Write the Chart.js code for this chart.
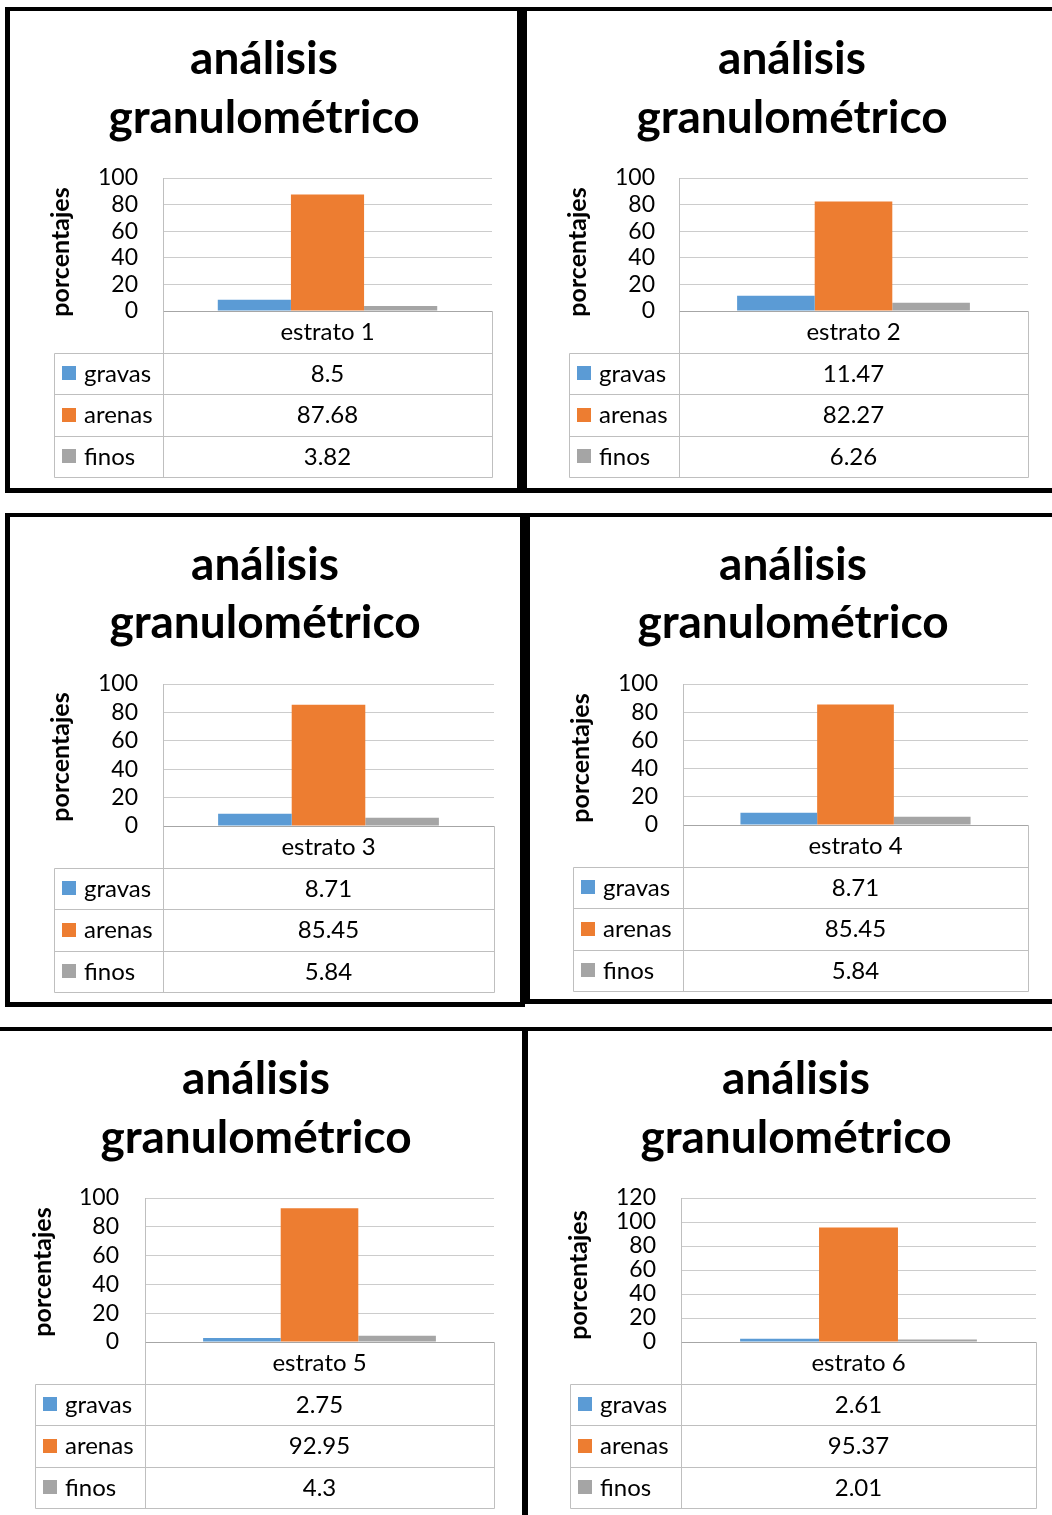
<!DOCTYPE html>
<html>
<head>
<meta charset="utf-8">
<script src="https://cdn.jsdelivr.net/npm/chart.js@4.4.1/dist/chart.umd.min.js"></script>
<style>
  html, body { margin: 0; padding: 0; background: #fff; }
  body { width: 1052px; height: 1515px; position: relative; overflow: hidden; }
  .frame { position: absolute; box-sizing: border-box; border: 5px solid #000; border-top-width: 4px; }
  .rule { position: absolute; background: #000; }
  canvas { position: absolute; }
</style>
</head>
<body>
<!-- panel frames -->
<div class="frame" style="left:5px;top:7px;width:517px;height:486px;"></div>
<div class="frame" style="left:522px;top:7px;width:540px;height:486px;"></div>
<div class="frame" style="left:5px;top:513px;width:520px;height:494px;"></div>
<div class="frame" style="left:525px;top:513px;width:540px;height:491px;"></div>
<div class="rule" style="left:0;top:1027px;width:1052px;height:4px;"></div>
<div class="rule" style="left:522px;top:1027px;width:6px;height:488px;"></div>

<script>
// ---- data ----
const strata = ['estrato 1', 'estrato 2', 'estrato 3', 'estrato 4', 'estrato 5', 'estrato 6'];
const seriesNames = ['gravas', 'arenas', 'finos'];
const gravas = [8.5, 11.47, 8.71, 8.71, 2.75, 2.61];
const arenas = [87.68, 82.27, 85.45, 85.45, 92.95, 95.37];
const finos  = [3.82, 6.26, 5.84, 5.84, 4.3, 2.01];
const yMax   = [100, 100, 100, 100, 100, 120];
const yStep  = 20;
const titleLines = ['análisis', 'granulométrico'];
const yTitle = 'porcentajes';

// ---- styles ----
const FONT = 'Lato, "Open Sans", sans-serif';
const seriesColors = ['#5B9BD5', '#ED7D31', '#A5A5A5'];
const gridColor = '#CCCCCC';
const axisColor = '#A6A6A6';
const tableColor = '#BFBFBF';
const rowH = 41.5;

// ---- panel placement on the page ----
const panelLayout = [
  { x: 10,  y: 10,   w: 507, h: 478, L: 163, R: 492,  T: 178,  B: 311,  labelL: 54,  tickR: 138, yTitleX: 61,  yTitleY: 252,  titleX: 264, base: [74, 133] },
  { x: 528, y: 10,   w: 524, h: 478, L: 679, R: 1028, T: 178,  B: 311,  labelL: 569, tickR: 655, yTitleX: 578, yTitleY: 252,  titleX: 792, base: [74, 133] },
  { x: 10,  y: 517,  w: 510, h: 485, L: 163, R: 494,  T: 684,  B: 826,  labelL: 54,  tickR: 138, yTitleX: 61,  yTitleY: 757,  titleX: 265, base: [580, 638] },
  { x: 530, y: 517,  w: 522, h: 483, L: 683, R: 1028, T: 684,  B: 825,  labelL: 573, tickR: 658, yTitleX: 581, yTitleY: 758,  titleX: 793, base: [580, 638] },
  { x: 0,   y: 1031, w: 521, h: 484, L: 145, R: 494,  T: 1198, B: 1342, labelL: 35,  tickR: 119, yTitleX: 43,  yTitleY: 1272, titleX: 256, base: [1094, 1153] },
  { x: 528, y: 1031, w: 524, h: 484, L: 681, R: 1036, T: 1198, B: 1342, labelL: 570, tickR: 656, yTitleX: 579, yTitleY: 1275, titleX: 796, base: [1094, 1153] }
];

// two-line bold heading and the rotated value-axis caption
const headingPlugin = {
  id: 'heading',
  afterDraw(chart, args, opts) {
    const ctx = chart.ctx;
    ctx.save();
    ctx.fillStyle = '#000';
    ctx.textAlign = 'center';
    ctx.textBaseline = 'alphabetic';
    ctx.font = `bold ${opts.size}px ${FONT}`;
    opts.lines.forEach((t, i) => ctx.fillText(t, opts.x, opts.baselines[i]));

    ctx.translate(opts.axisX, opts.axisY);
    ctx.rotate(-Math.PI / 2);
    ctx.textBaseline = 'middle';
    ctx.font = `bold ${opts.axisSize}px ${FONT}`;
    ctx.fillText(opts.axisText, 0, 0);
    ctx.restore();
  }
};

// data table under the plot: category header, legend keys, values
const tablePlugin = {
  id: 'dataTable',
  afterDraw(chart, args, opts) {
    const { ctx, chartArea: a, scales: { x } } = chart;
    const sets = chart.data.datasets;
    const top = a.bottom;
    const bottom = top + rowH * (sets.length + 1);
    const px = v => Math.round(v) + 0.5;
    const line = (x1, y1, x2, y2) => {
      ctx.beginPath(); ctx.moveTo(px(x1), px(y1)); ctx.lineTo(px(x2), px(y2)); ctx.stroke();
    };
    ctx.save();
    ctx.lineWidth = 1;
    ctx.strokeStyle = axisColor;
    line(a.left, top, a.right, top);
    ctx.strokeStyle = tableColor;
    line(a.left, top, a.left, bottom);
    line(a.right, top, a.right, bottom);
    line(opts.labelLeft, top + rowH, opts.labelLeft, bottom);
    for (let r = 1; r <= sets.length + 1; r++) line(opts.labelLeft, top + rowH * r, a.right, top + rowH * r);

    const cx = x.getPixelForValue(0);
    ctx.font = `${opts.size}px ${FONT}`;
    ctx.textBaseline = 'middle';
    ctx.fillStyle = '#000';
    ctx.textAlign = 'center';
    ctx.fillText(chart.data.labels[0], cx, top + rowH / 2 + 1);
    sets.forEach((ds, i) => {
      const yMid = top + rowH * (i + 1.5);
      ctx.fillStyle = ds.backgroundColor;
      ctx.fillRect(Math.round(opts.labelLeft + 8), Math.round(yMid - 7), 14, 14);
      ctx.fillStyle = '#000';
      ctx.textAlign = 'left';
      ctx.fillText(ds.label, opts.labelLeft + 30, yMid + 1);
      ctx.textAlign = 'center';
      ctx.fillText(String(ds.data[0]), cx, yMid + 1);
    });
    ctx.restore();
  }
};

const seriesValues = [gravas, arenas, finos];

panelLayout.forEach((p, i) => {
  const cv = document.createElement('canvas');
  cv.width = p.w; cv.height = p.h;
  cv.style.left = p.x + 'px'; cv.style.top = p.y + 'px';
  cv.style.width = p.w + 'px'; cv.style.height = p.h + 'px';
  document.body.appendChild(cv);

  new Chart(cv, {
    type: 'bar',
    data: {
      labels: [strata[i]],
      datasets: seriesNames.map((name, k) => ({
        label: name,
        data: [seriesValues[k][i]],
        backgroundColor: seriesColors[k],
        borderWidth: 0,
        categoryPercentage: 0.667,
        barPercentage: 1
      }))
    },
    options: {
      responsive: false,
      animation: false,
      devicePixelRatio: 1,
      layout: { padding: { left: 0, top: p.T - p.y, right: p.x + p.w - p.R, bottom: p.y + p.h - p.B } },
      plugins: {
        legend: { display: false },
        tooltip: { enabled: false },
        title: { display: false },
        heading: {
          lines: titleLines, x: p.titleX - p.x, baselines: p.base.map(b => b - p.y), size: 46,
          axisText: yTitle, axisX: p.yTitleX - p.x, axisY: p.yTitleY - p.y, axisSize: 25
        },
        dataTable: { labelLeft: p.labelL - p.x, size: 24 }
      },
      scales: {
        x: { display: false },
        y: {
          min: 0,
          max: yMax[i],
          afterFit(scale) { scale.width = p.L - p.x; },
          ticks: { stepSize: yStep, autoSkip: false, padding: p.L - p.tickR, color: '#000', font: { family: FONT, size: 23 } },
          grid: {
            drawTicks: false,
            lineWidth: 1,
            color: c => (c.tick && c.tick.value === 0) ? axisColor : gridColor
          },
          border: { display: true, color: tableColor, width: 1 },
          title: { display: false }
        }
      }
    },
    plugins: [headingPlugin, tablePlugin]
  });
});
</script>
</body>
</html>
